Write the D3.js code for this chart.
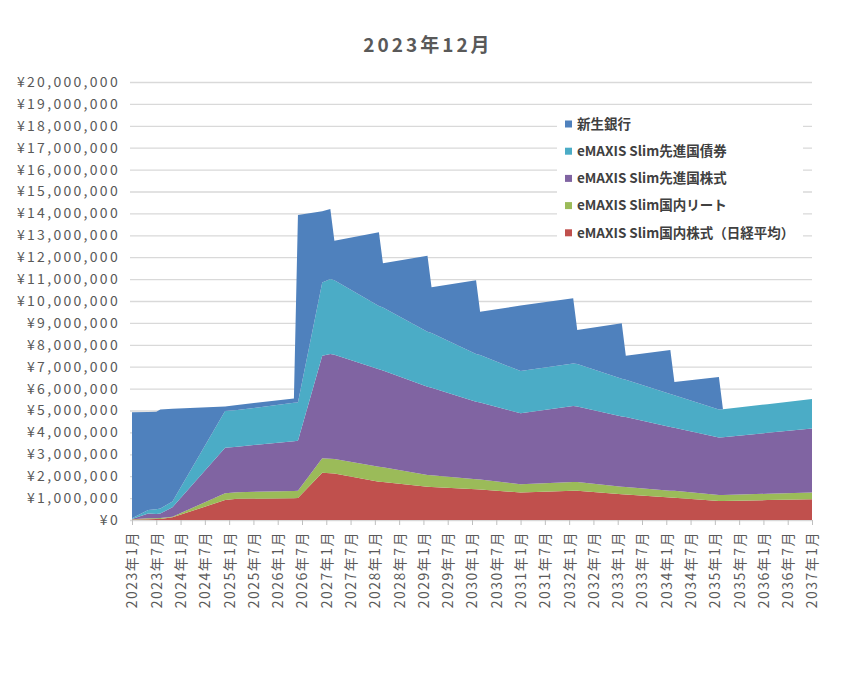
<!DOCTYPE html>
<html>
<head>
<meta charset="utf-8">
<script src="https://cdn.jsdelivr.net/npm/d3@7"></script>
<style>
    body { margin: 0; background: #fff; }
    .chart text { font-family: "Noto Sans CJK JP", "Noto Sans", sans-serif; fill: #595959; }
    .axis path.domain { display: none; }
    .y-axis line { stroke: #d9d9d9; stroke-width: 1.3px; }
    .x-axis line { stroke: #bfbfbf; }
</style>
</head>
<body>
<div class="chart"></div>
<script>

// month index from 2023年1月 (0) ... 2037年1月 (168)
var months  = [0, 4, 6, 7, 10, 23, 26, 40, 41, 47, 49, 50, 61, 62, 73, 74, 85, 86, 96, 109, 110, 121, 122, 133, 134, 145, 146, 157, 168];

// values in yen
var nikkei  = [20000, 30000, 40000, 50000, 120000, 910000, 970000, 990000, 1000000, 2160000, 2130000, 2120000, 1750000, 1730000, 1520000, 1510000, 1400000, 1390000, 1260000, 1340000, 1330000, 1180000, 1170000, 1030000, 1020000, 870000, 870000, 910000, 950000];
var reit    = [10000, 50000, 40000, 40000, 30000, 310000, 300000, 330000, 330000, 660000, 670000, 660000, 680000, 680000, 530000, 530000, 460000, 460000, 370000, 400000, 400000, 340000, 340000, 310000, 310000, 270000, 270000, 290000, 310000];
var dmStock = [20000, 220000, 190000, 210000, 430000, 2080000, 2080000, 2280000, 2290000, 4680000, 4780000, 4770000, 4450000, 4420000, 4040000, 4000000, 3540000, 3510000, 3240000, 3460000, 3450000, 3210000, 3190000, 2910000, 2880000, 2630000, 2640000, 2780000, 2920000];
var dmBond  = [30000, 160000, 220000, 230000, 260000, 1680000, 1670000, 1750000, 1750000, 3350000, 3420000, 3400000, 2890000, 2870000, 2510000, 2500000, 2180000, 2170000, 1930000, 1950000, 1940000, 1720000, 1700000, 1500000, 1490000, 1280000, 1280000, 1310000, 1340000];
var shinsei = [4840000, 4470000, 4450000, 4520000, 4240000, 200000, 230000, 200000, 8560000, 3250000, 3200000, 1800000, 3370000, 2020000, 3470000, 2090000, 3370000, 1980000, 2990000, 2970000, 1560000, 2530000, 1100000, 2010000, 600000, 1480000, 0, 0, 0];

var seriesNames  = ["eMAXIS Slim国内株式（日経平均）", "eMAXIS Slim国内リート", "eMAXIS Slim先進国株式", "eMAXIS Slim先進国債券", "新生銀行"];
var seriesColors = ["#c0504d", "#9bbb59", "#8064a2", "#4bacc6", "#4f81bd"];

var tickMonths = [0, 6, 12, 18, 24, 30, 36, 42, 48, 54, 60, 66, 72, 78, 84, 90, 96, 102, 108, 114, 120, 126, 132, 138, 144, 150, 156, 162, 168];
var tickLabels = ["2023年1月", "2023年7月", "2024年1月", "2024年7月", "2025年1月", "2025年7月", "2026年1月", "2026年7月",
    "2027年1月", "2027年7月", "2028年1月", "2028年7月", "2029年1月", "2029年7月", "2030年1月", "2030年7月",
    "2031年1月", "2031年7月", "2032年1月", "2032年7月", "2033年1月", "2033年7月", "2034年1月", "2034年7月",
    "2035年1月", "2035年7月", "2036年1月", "2036年7月", "2037年1月"];
var yTicks = d3.range(0, 20000001, 1000000);


AreaChart = function(_parentElement){
    this.parentElement = _parentElement;
    this.initVis();
}

AreaChart.prototype.initVis = function(){
    var vis = this;

    vis.margin = { top: 82, right: 31, bottom: 170, left: 132 };
    vis.width = 843 - vis.margin.left - vis.margin.right;
    vis.height = 690 - vis.margin.top - vis.margin.bottom;

    vis.svg = d3.select("." + vis.parentElement).append("svg")
        .attr("width", 843)
        .attr("height", 690)
        .append("g")
        .attr("transform", "translate(" + vis.margin.left + "," + vis.margin.top + ")");

    // title
    vis.svg.append("text")
        .attr("x", vis.width / 2 - 44)
        .attr("y", -30)
        .attr("text-anchor", "middle")
        .style("font-size", "19px")
        .style("font-weight", "bold")
        .style("letter-spacing", "3px")
        .text("2023年12月");

    vis.x = d3.scaleLinear().domain([0, 168]).range([0, vis.width]);
    vis.y = d3.scaleLinear().domain([0, 20000000]).range([vis.height, 0]);

    vis.yAxis = d3.axisLeft(vis.y)
        .tickValues(yTicks)
        .tickSize(-vis.width - 2)
        .tickPadding(10)
        .tickFormat(function(d){ return "¥" + d3.format(",")(d); });

    vis.xAxis = d3.axisBottom(vis.x)
        .tickValues(tickMonths)
        .tickSize(5)
        .tickFormat(function(d, i){ return tickLabels[i]; });

    vis.wrangleData();
}

AreaChart.prototype.wrangleData = function(){
    var vis = this;

    vis.table = months.map(function(m, i){
        return { month: m, s0: nikkei[i], s1: reit[i], s2: dmStock[i], s3: dmBond[i], s4: shinsei[i] };
    });

    vis.layers = d3.stack().keys(["s0", "s1", "s2", "s3", "s4"])(vis.table);

    vis.updateVis();
}

AreaChart.prototype.updateVis = function(){
    var vis = this;

    vis.svg.append("g")
        .attr("class", "y-axis axis")
        .attr("transform", "translate(-2,0)")
        .call(vis.yAxis)
        .selectAll("text")
        .style("font-size", "14px")
        .style("letter-spacing", "2.3px");

    vis.area = d3.area()
        .x(function(d){ return vis.x(d.data.month); })
        .y0(function(d){ return vis.y(d[0]); })
        .y1(function(d){ return vis.y(d[1]); });

    vis.svg.selectAll(".layer")
        .data(vis.layers)
        .enter()
        .append("path")
        .attr("class", "layer")
        .attr("d", vis.area)
        .style("fill", function(d, i){ return seriesColors[i]; });

    var xg = vis.svg.append("g")
        .attr("class", "x-axis axis")
        .attr("transform", "translate(0," + vis.height + ")")
        .call(vis.xAxis);

    xg.selectAll("text")
        .attr("y", 0)
        .attr("x", -11)
        .attr("dy", "0.35em")
        .attr("transform", "rotate(-90)")
        .style("text-anchor", "end")
        .style("font-size", "14px")
        .style("letter-spacing", "1.5px");

    // legend (top series first)
    var legend = vis.svg.append("g")
        .attr("transform", "translate(" + (565 - vis.margin.left) + "," + (110 - vis.margin.top) + ")");

    legend.append("rect")
        .attr("x", -8)
        .attr("y", -2)
        .attr("width", 246)
        .attr("height", 136)
        .style("fill", "#fff");

    var order = [4, 3, 2, 1, 0];
    var item = legend.selectAll(".legend-item")
        .data(order)
        .enter()
        .append("g")
        .attr("class", "legend-item")
        .attr("transform", function(d, i){ return "translate(0," + (14 + i * 27.2) + ")"; });

    item.append("rect")
        .attr("x", 0)
        .attr("y", -3.5)
        .attr("width", 7)
        .attr("height", 7)
        .style("fill", function(d){ return seriesColors[d]; });

    item.append("text")
        .attr("x", 12)
        .attr("dy", "0.35em")
        .style("font-size", "13.5px")
        .style("font-weight", "bold")
        .style("fill", "#404040")
        .text(function(d){ return seriesNames[d]; });
}

var chart = new AreaChart("chart");

</script>
</body>
</html>
